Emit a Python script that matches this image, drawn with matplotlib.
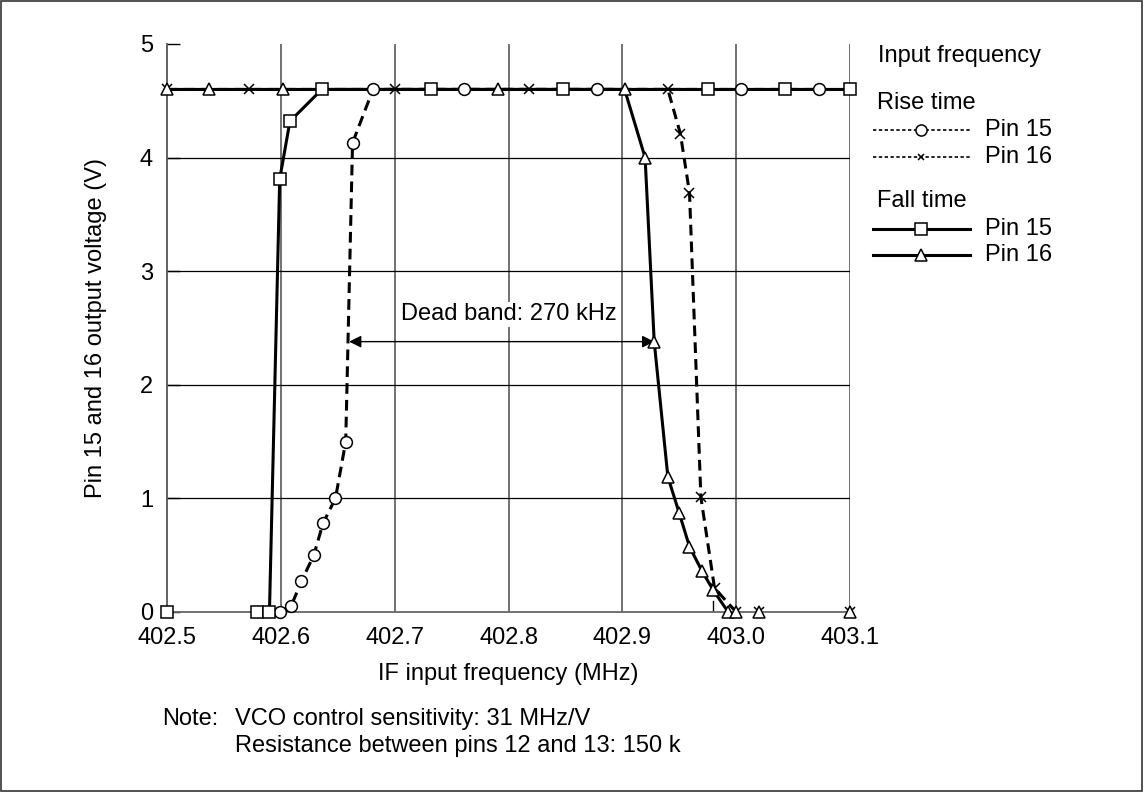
import matplotlib
matplotlib.use("Agg")
import matplotlib.pyplot as plt
from matplotlib.lines import Line2D
from matplotlib.patches import Rectangle

plt.rcParams['font.family'] = ['Liberation Sans', 'DejaVu Sans']

# ---- data ----
rise15_x = [402.599, 402.609, 402.618, 402.629, 402.637, 402.648, 402.657, 402.663, 402.681,
            402.761, 402.878, 403.004, 403.073]
rise15_y = [0, 0.05, 0.27, 0.5, 0.78, 1.0, 1.5, 4.13, 4.6, 4.6, 4.6, 4.6, 4.6]

rise16_x = [402.5, 402.572, 402.700, 402.818, 402.940, 402.951, 402.959, 402.969, 402.981,
            403.0, 403.02, 403.1]
rise16_y = [4.6, 4.6, 4.6, 4.6, 4.6, 4.21, 3.69, 1.01, 0.21, 0, 0, 0]

fall15_x = [402.5, 402.579, 402.590, 402.599, 402.608, 402.636, 402.732, 402.848, 402.975,
            403.043, 403.1]
fall15_y = [0, 0, 0, 3.81, 4.32, 4.6, 4.6, 4.6, 4.6, 4.6, 4.6]

fall16_x = [402.5, 402.537, 402.602, 402.791, 402.902, 402.920, 402.928, 402.940, 402.950,
            402.959, 402.970, 402.980, 402.993, 403.0, 403.02, 403.1]
fall16_y = [4.6, 4.6, 4.6, 4.6, 4.6, 4.0, 2.38, 1.19, 0.87, 0.575, 0.36, 0.19, 0, 0, 0, 0]

x_ticks = [402.5, 402.6, 402.7, 402.8, 402.9, 403.0, 403.1]
x_ticklabels = ["402.5", "402.6", "402.7", "402.8", "402.9", "403.0", "403.1"]
y_ticks = [0, 1, 2, 3, 4, 5]

dead_band_left = 402.660
dead_band_right = 402.928
dead_band_y = 2.38
dead_band_label = "Dead band: 270 kHz"
marker_tick_x = 402.98

FS = 17

fig = plt.figure(figsize=(11.44, 7.92), dpi=100)
ax = fig.add_axes([167/1144, 1-612/792, (850-167)/1144, (612-44)/792])
ax.set_xlim(402.5, 403.1)
ax.set_ylim(0, 5)

# grid
for xv in x_ticks[1:]:
    ax.axvline(xv, color='#666666', lw=1.3, zorder=1)
for yv in y_ticks[1:-1]:
    ax.axhline(yv, color='black', lw=0.9, zorder=1)

for s in ['top', 'right']:
    ax.spines[s].set_visible(False)
ax.spines['left'].set_color('#555555')
ax.spines['left'].set_linewidth(1.3)
ax.spines['bottom'].set_color('#666666')
ax.spines['bottom'].set_linewidth(1.3)

ax.set_xticks(x_ticks)
ax.set_xticklabels(x_ticklabels, fontsize=FS)
ax.set_yticks(y_ticks)
ax.set_yticklabels([str(v) for v in y_ticks], fontsize=FS)
ax.tick_params(axis='x', length=0, pad=11)
ax.tick_params(axis='y', direction='in', length=9, width=1, pad=10)


def trimmed(xs, ys):
    """Drop runs of zero points at the ends (keep one adjacent zero)."""
    i0 = 0
    while i0 + 1 < len(ys) and ys[i0] == 0 and ys[i0 + 1] == 0:
        i0 += 1
    i1 = len(ys) - 1
    while i1 - 1 >= 0 and ys[i1] == 0 and ys[i1 - 1] == 0:
        i1 -= 1
    return xs[i0:i1 + 1], ys[i0:i1 + 1]


mk = dict(markerfacecolor='white', markeredgecolor='black', markeredgewidth=1.1)
series = [
    (rise15_x, rise15_y, 'o', (0, (3.5, 2)), 8.5, 3),
    (rise16_x, rise16_y, 'x', (0, (3.5, 2)), 7, 3),
    (fall15_x, fall15_y, 's', '-', 8.5, 4),
    (fall16_x, fall16_y, '^', '-', 9, 4),
]
for xs, ys, m, ls, ms, z in series:
    tx, ty = trimmed(xs, ys)
    ax.plot(tx, ty, color='black', lw=2.2, ls=ls, zorder=z)
for xs, ys, m, ls, ms, z in series:
    ax.plot(xs, ys, ls='none', marker=m, markersize=ms, zorder=6, clip_on=False, **mk)

ax.plot([marker_tick_x, marker_tick_x], [0, 0.1], color='black', lw=1, zorder=2)

# dead band arrow
ax.annotate('', xy=(dead_band_left, dead_band_y), xytext=(dead_band_right, dead_band_y),
            arrowprops=dict(arrowstyle='<|-|>', color='black', lw=1, mutation_scale=18,
                            shrinkA=0, shrinkB=0), zorder=5)
ax.text(402.8, 2.62, dead_band_label, fontsize=FS,
        ha='center', va='center', zorder=5,
        bbox=dict(facecolor='white', edgecolor='none', pad=1))

ax.set_xlabel("IF input frequency (MHz)", fontsize=FS, labelpad=10)
ax.set_ylabel("Pin 15 and 16 output voltage (V)", fontsize=FS, labelpad=24)

# legend (manual)
def fx(p): return p / 1144
def fy(p): return 1 - p / 792

fig.text(fx(878), fy(56), "Input frequency", fontsize=FS, va='center')
fig.text(fx(877), fy(103), "Rise time", fontsize=FS, va='center')
fig.text(fx(877), fy(201), "Fall time", fontsize=FS, va='center')
leg_rows = [
    (130, 'o', (0, (2, 1.5)), 1.2, 8, "Pin 15"),
    (157, 'x', (0, (2, 1.5)), 1.2, 5, "Pin 16"),
    (229, 's', '-', 2.2, 8, "Pin 15"),
    (255, '^', '-', 2.2, 8, "Pin 16"),
]
for yp, m, ls, lw, ms, lab in leg_rows:
    fig.add_artist(Line2D([fx(873), fx(970)], [fy(yp), fy(yp)], color='black', lw=lw, ls=ls,
                          transform=fig.transFigure))
    fig.add_artist(Line2D([fx(921)], [fy(yp)], ls='none', marker=m, markersize=ms,
                          transform=fig.transFigure, **mk))
    fig.text(fx(985), fy(yp), lab, fontsize=FS, va='center')

# notes
fig.text(fx(162), fy(719), "Note:", fontsize=FS, va='center')
fig.text(fx(235), fy(719), "VCO control sensitivity: 31 MHz/V", fontsize=FS, va='center')
fig.text(fx(235), fy(746), "Resistance between pins 12 and 13: 150 k", fontsize=FS, va='center')

# outer frame
fig.add_artist(Rectangle((0.0005, 0.0008), 0.998, 0.998, transform=fig.transFigure,
                         fill=False, edgecolor='#333333', lw=1.2))

fig.savefig("out.png", dpi=100)
